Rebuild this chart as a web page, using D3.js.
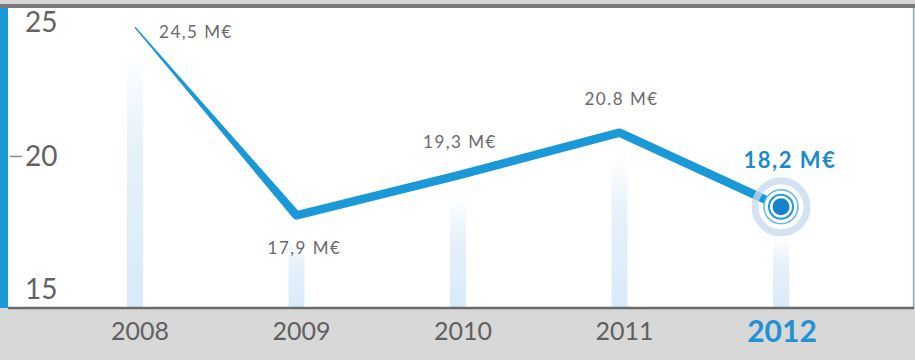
<!DOCTYPE html>
<html>
<head>
<meta charset="utf-8">
<script src="https://cdn.jsdelivr.net/npm/d3@7"></script>
<style>
  html, body { margin: 0; padding: 0; background: #d8d8d8; }
  svg { display: block; }
</style>
</head>
<body>
<svg id="chart" width="915" height="360"></svg>
<script>
// Revenue per year, in millions of euros
const years = ["2008", "2009", "2010", "2011", "2012"];
const values = [24.5, 17.9, 19.3, 20.8, 18.2];
const valueLabels = ["24,5 M€", "17,9 M€", "19,3 M€", "20.8 M€", "18,2 M€"];
const yTicks = [15, 20, 25];
const highlightYear = "2012";

const W = 915, H = 360;
const plot = { left: 8, right: 913, top: 8, bottom: 307 };
const blue = "#1b98d7";
const grey = "#5c5c5c";
const font = "Lato, 'Open Sans', sans-serif";

const svg = d3.select("#chart");

const x = d3.scalePoint().domain(years).range([135, 781]);
const y = d3.scaleLinear().domain([15, 25]).range([298, 13]);

// Vertical glow fades in over the upper part of each column
const defs = svg.append("defs");
const glow = defs.append("linearGradient")
  .attr("id", "glow").attr("x1", 0).attr("y1", 0).attr("x2", 0).attr("y2", 1);
glow.append("stop").attr("offset", "0%").attr("stop-color", "#dcecf9").attr("stop-opacity", 0);
glow.append("stop").attr("offset", "40%").attr("stop-color", "#dcecf9").attr("stop-opacity", 0.75);
glow.append("stop").attr("offset", "100%").attr("stop-color", "#d6e9f8").attr("stop-opacity", 0.95);

// Frame: top strip, white plot panel, left accent, bottom rule
svg.append("rect").attr("x", 0).attr("y", 0).attr("width", W).attr("height", 4).attr("fill", "#d6d6d6");
svg.append("rect").attr("x", 0).attr("y", 4).attr("width", W).attr("height", 4).attr("fill", "#7b7b7b");
svg.append("rect")
  .attr("x", plot.left).attr("y", plot.top)
  .attr("width", plot.right - plot.left).attr("height", plot.bottom - plot.top)
  .attr("fill", "#ffffff");
svg.append("rect").attr("x", 0).attr("y", plot.top).attr("width", plot.left).attr("height", plot.bottom - plot.top + 1).attr("fill", blue);
svg.append("line")
  .attr("x1", plot.right + 0.5).attr("x2", plot.right + 0.5)
  .attr("y1", plot.top).attr("y2", plot.bottom)
  .attr("stroke", "#93b4bd").attr("stroke-width", 1.5);

// Soft vertical glows under each point
const glowTop = (d, i) => y(values[i]) + (d === highlightYear ? 30 : 22);
svg.append("g").selectAll("rect")
  .data(years)
  .join("rect")
  .attr("x", d => x(d) - 8)
  .attr("width", 16)
  .attr("y", glowTop)
  .attr("height", (d, i) => plot.bottom - glowTop(d, i))
  .attr("fill", "url(#glow)");

svg.append("line")
  .attr("x1", plot.left).attr("x2", plot.right + 1)
  .attr("y1", plot.bottom + 1).attr("y2", plot.bottom + 1)
  .attr("stroke", "#6a6a6a").attr("stroke-width", 2.5);

// Y axis labels, kept inside the panel
const yAxis = svg.append("g");
yTicks.forEach(t => {
  const ty = y(t);
  const cy = Math.max(plot.top + 13.5, Math.min(plot.bottom - 18, ty));
  if (cy === ty) {
    yAxis.append("line")
      .attr("x1", plot.left + 2).attr("x2", plot.left + 14)
      .attr("y1", ty + 1).attr("y2", ty + 1)
      .attr("stroke", "#8a8a8a").attr("stroke-width", 1.5);
  }
  yAxis.append("text")
    .attr("x", 25).attr("y", cy).attr("dy", "0.36em")
    .attr("font-family", font).attr("font-size", 28)
    .attr("fill", "#626262")
    .text(t);
});

// X axis year labels
svg.append("g").selectAll("text")
  .data(years)
  .join("text")
  .attr("x", d => x(d) + (d === highlightYear ? 1 : 5))
  .attr("y", 331)
  .attr("dy", "0.36em")
  .attr("text-anchor", "middle")
  .attr("font-family", font)
  .attr("font-size", d => d === highlightYear ? 30 : 25)
  .attr("font-weight", d => d === highlightYear ? 700 : 400)
  .attr("fill", d => d === highlightYear ? "#1e92d2" : "#606060")
  .text(d => d);

// Line: tapered opening stroke, then a steady thick line
const pts = years.map((d, i) => [x(d), y(values[i])]);
const [p0, p1] = pts;
const dx = p1[0] - p0[0], dy = p1[1] - p0[1];
const len = Math.hypot(dx, dy);
const nx = -dy / len, ny = dx / len;
const w0 = 0.6, w1 = 4.4;
svg.append("path")
  .attr("d", d3.line()([
    [p0[0] + nx * w0, p0[1] + ny * w0],
    [p1[0] + nx * w1, p1[1] + ny * w1],
    [p1[0] - nx * w1, p1[1] - ny * w1],
    [p0[0] - nx * w0, p0[1] - ny * w0]
  ]) + "Z")
  .attr("fill", blue);

svg.append("path")
  .attr("d", d3.line()(pts.slice(1)))
  .attr("fill", "none")
  .attr("stroke", blue)
  .attr("stroke-width", 8.5)
  .attr("stroke-linejoin", "round")
  .attr("stroke-linecap", "round");

// Highlight target on the last point
const last = pts[pts.length - 1];
const target = svg.append("g").attr("transform", `translate(${last[0]},${last[1]})`);
target.append("circle").attr("r", 26).attr("fill", "none").attr("stroke", "#c4daec").attr("stroke-width", 7).attr("opacity", 0.75);
target.append("circle").attr("r", 17).attr("fill", "#ffffff").attr("stroke", "#63b9e8").attr("stroke-width", 1.5);
target.append("circle").attr("r", 12).attr("fill", "#ffffff").attr("stroke", "#1f9ad9").attr("stroke-width", 2);
target.append("circle").attr("r", 8.5).attr("fill", "#1482c9");

// Value labels
const labelPos = (i) => {
  if (i === 0) return [x(years[i]) + 61, y(values[i]) + 5];
  const prev = values[i - 1], next = values[i + 1];
  const isLow = prev > values[i] && (next === undefined || next > values[i]);
  if (years[i] === highlightYear) return [x(years[i]) + 9, y(values[i]) - 47];
  return isLow ? [x(years[i]) + 8, y(values[i]) + 33] : [x(years[i]) + 2, y(values[i]) - 34];
};
svg.append("g").selectAll("text")
  .data(valueLabels)
  .join("text")
  .attr("x", (d, i) => labelPos(i)[0])
  .attr("y", (d, i) => labelPos(i)[1])
  .attr("dy", "0.36em")
  .attr("text-anchor", "middle")
  .attr("font-family", font)
  .attr("font-size", (d, i) => years[i] === highlightYear ? 22 : 17)
  .attr("font-weight", (d, i) => years[i] === highlightYear ? 700 : 400)
  .attr("letter-spacing", 1.5)
  .attr("fill", (d, i) => years[i] === highlightYear ? "#1a8ccb" : "#6a6a6a")
  .text(d => d);
</script>
</body>
</html>
